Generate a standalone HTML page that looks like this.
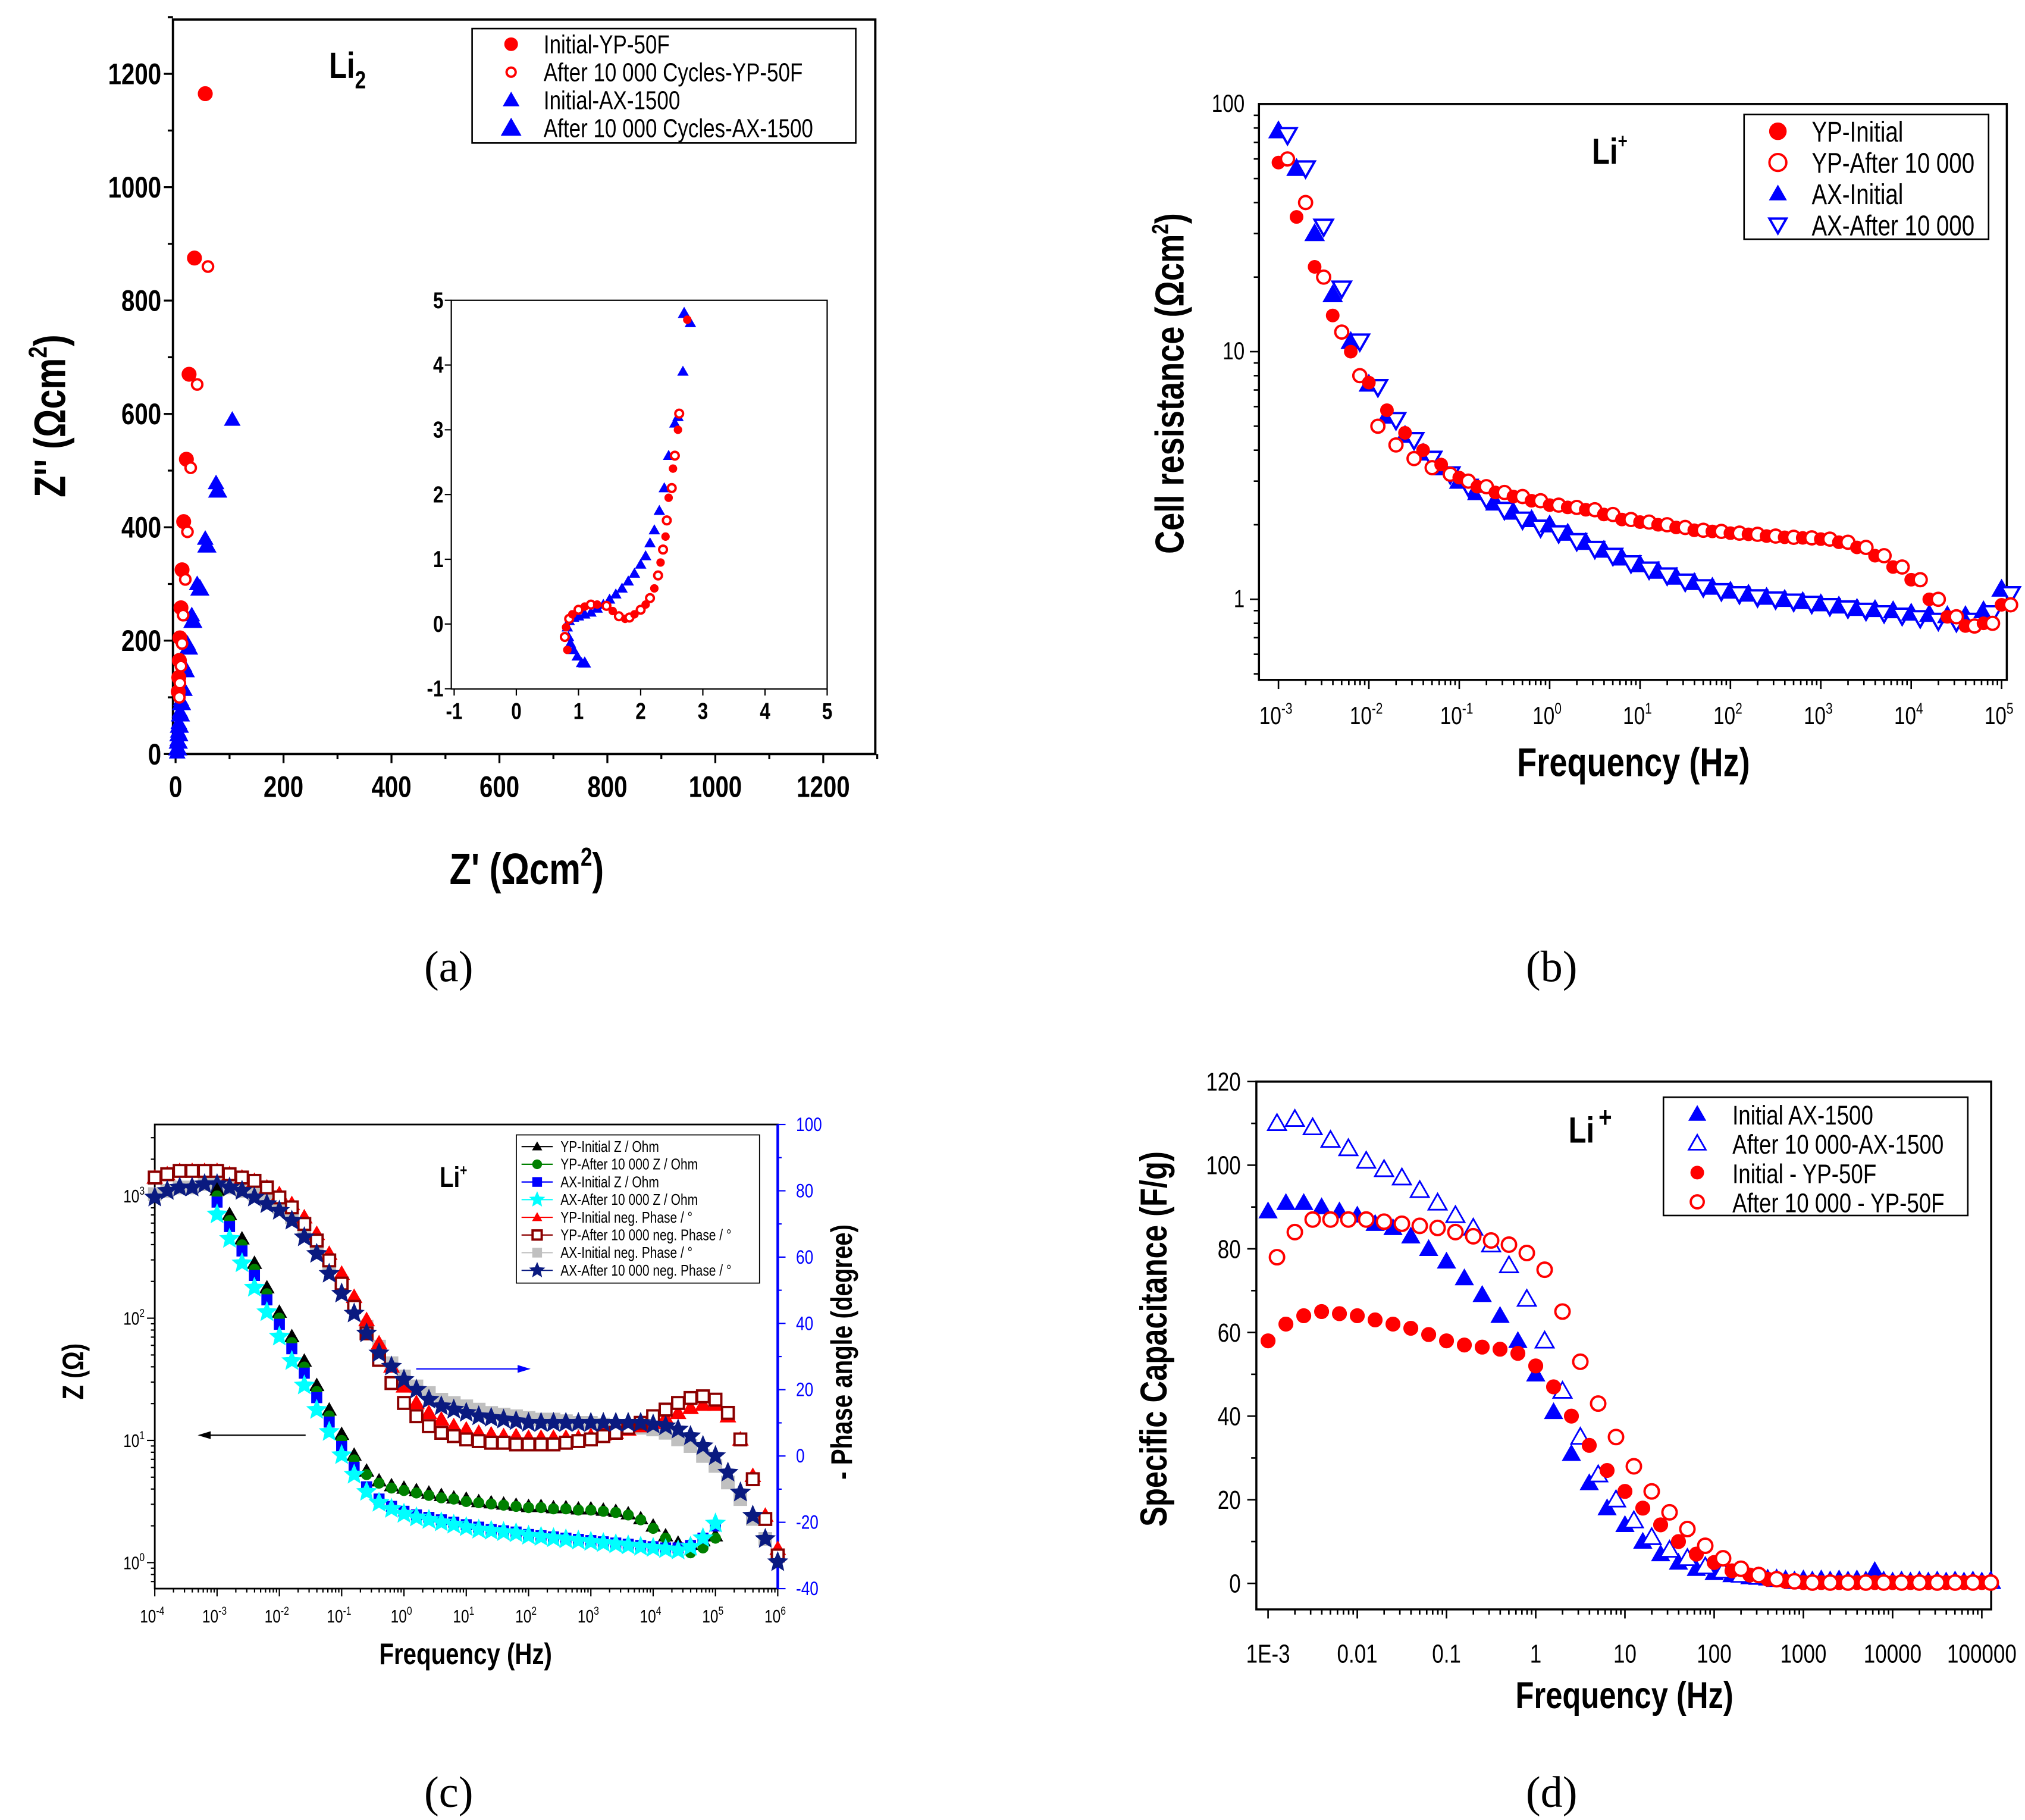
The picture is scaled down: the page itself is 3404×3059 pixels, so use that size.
<!DOCTYPE html>
<html><head><meta charset="utf-8"><style>
html,body{margin:0;padding:0;background:#fff;}
svg{display:block;}
text{font-family:"Liberation Sans",sans-serif;}
.lab{font-family:"Liberation Serif",serif;font-size:34px;}
</style></head><body>
<svg id="fig" xmlns="http://www.w3.org/2000/svg" width="3404" height="3059" viewBox="0 0 1557 1400" preserveAspectRatio="none">
<text class="lab" x="345" y="755" text-anchor="middle">(a)</text>
<text class="lab" x="1193" y="755" text-anchor="middle">(b)</text>
<text class="lab" x="345" y="1390" text-anchor="middle">(c)</text>
<text class="lab" x="1193" y="1390" text-anchor="middle">(d)</text>
</svg>
<script>
// ---------- Panel (a) data ----------
const aYPInitX=[55,35,25,20,15,12,10,8,7,6,5];
const aYPInitY=[1165,875,670,520,410,325,258,205,165,135,110];
const aYPAftX=[60,40,28,22,18,14,12,10,8,7];
const aYPAftY=[860,652,505,392,308,245,195,155,125,100];
const aAXInitX=[105,75,55,40,30,22,16,12,10,8,6,5,4,4,3];
const aAXInitY=[590,478,380,300,245,195,155,120,95,75,55,40,25,12,3];
const aAXAftX=[78,58,45,32,24,18,14,11,9,7,6,5,4];
const aAXAftY=[465,368,292,235,188,148,115,90,70,50,35,22,10];
const aXTicks=[0,200,400,600,800,1000,1200];
const aYTicks=[0,200,400,600,800,1000,1200];
// inset
const inRedX=[0.82,0.78,0.8,0.85,0.9,1.0,1.1,1.2,1.3,1.45,1.55,1.65,1.75,1.82,1.9,2.0,2.08,2.15,2.22,2.28,2.32,2.36,2.4,2.42,2.45,2.5,2.52,2.55,2.6,2.62,2.75];
const inRedY=[-0.4,-0.2,-0.05,0.08,0.15,0.22,0.27,0.3,0.3,0.28,0.2,0.12,0.08,0.1,0.15,0.22,0.3,0.4,0.55,0.75,0.95,1.15,1.35,1.6,1.95,2.1,2.4,2.6,3.0,3.25,4.7];
const inBlueX=[1.05,0.98,0.92,0.87,0.84,0.82,0.85,0.92,1.0,1.1,1.2,1.3,1.4,1.5,1.6,1.7,1.8,1.9,2.0,2.08,2.15,2.22,2.3,2.38,2.45,2.55,2.6,2.68,2.8];
const inBlueY=[-0.6,-0.5,-0.4,-0.3,-0.2,-0.05,0.05,0.1,0.12,0.15,0.18,0.24,0.3,0.38,0.46,0.55,0.66,0.78,0.92,1.05,1.25,1.45,1.75,2.1,2.6,3.1,3.2,3.9,4.65];
const inBlue2X=[1.1,2.7];
const inBlue2Y=[-0.6,4.8];
const inTicks=[-1,0,1,2,3,4,5];
// ---------- Panel (b) data (log10 f step 0.2) ----------
const bF=[-3,-2.8,-2.6,-2.4,-2.2,-2,-1.8,-1.6,-1.4,-1.2,-1,-0.8,-0.6,-0.4,-0.2,0,0.2,0.4,0.6,0.8,1,1.2,1.4,1.6,1.8,2,2.2,2.4,2.6,2.8,3,3.2,3.4,3.6,3.8,4,4.2,4.4,4.6,4.8,5];
const bYPInit=[58,35,22,14,10,7.5,5.8,4.7,4.0,3.5,3.1,2.85,2.7,2.6,2.5,2.4,2.35,2.3,2.2,2.1,2.05,2.0,1.95,1.9,1.88,1.85,1.83,1.8,1.78,1.77,1.75,1.7,1.62,1.5,1.35,1.2,1.0,0.85,0.78,0.8,0.95];
const bYPAft=[60,40,20,12,8,5,4.2,3.7,3.4,3.2,3.0,2.85,2.7,2.6,2.5,2.4,2.35,2.3,2.2,2.1,2.05,2.0,1.95,1.9,1.88,1.85,1.83,1.8,1.78,1.77,1.75,1.7,1.62,1.5,1.35,1.2,1.0,0.85,0.78,0.8,0.95];
const bAXInit=[78,55,30,17,11,7.4,5.5,4.6,3.9,3.4,3.0,2.7,2.45,2.25,2.1,2.0,1.85,1.7,1.58,1.47,1.38,1.3,1.23,1.17,1.12,1.08,1.05,1.02,1.0,0.98,0.96,0.94,0.92,0.91,0.9,0.88,0.87,0.86,0.86,0.9,1.1];
const bAXAft=[75,55,32,18,11,7.2,5.3,4.4,3.7,3.2,2.85,2.55,2.3,2.1,1.95,1.85,1.72,1.6,1.5,1.4,1.32,1.25,1.18,1.12,1.08,1.05,1.02,1.0,0.98,0.96,0.94,0.92,0.9,0.88,0.86,0.84,0.82,0.81,0.82,0.88,1.05];
const bXTickExp=[-3,-2,-1,0,1,2,3,4,5];
const bYTicks=[1,10,100];
// ---------- Panel (c) data ----------
const cFZ=[-3,-2.8,-2.6,-2.4,-2.2,-2,-1.8,-1.6,-1.4,-1.2,-1,-0.8,-0.6,-0.4,-0.2,0,0.2,0.4,0.6,0.8,1,1.2,1.4,1.6,1.8,2,2.2,2.4,2.6,2.8,3,3.2,3.4,3.6,3.8,4,4.2,4.4,4.6,4.8,5];
const cYPInitZ=[3.05,2.85,2.65,2.45,2.25,2.05,1.85,1.65,1.45,1.25,1.05,0.88,0.75,0.67,0.63,0.61,0.59,0.57,0.55,0.53,0.52,0.5,0.49,0.48,0.47,0.46,0.46,0.45,0.45,0.44,0.44,0.43,0.42,0.4,0.36,0.3,0.22,0.16,0.15,0.18,0.22];
const cYPAftZ=[3.0,2.8,2.6,2.4,2.2,2.0,1.8,1.6,1.4,1.2,1.0,0.84,0.72,0.65,0.61,0.59,0.57,0.55,0.53,0.52,0.5,0.49,0.48,0.47,0.46,0.45,0.45,0.44,0.44,0.43,0.43,0.42,0.41,0.39,0.35,0.28,0.2,0.12,0.08,0.12,0.2];
const cAXInitZ=[2.95,2.75,2.55,2.35,2.15,1.95,1.75,1.55,1.35,1.15,0.95,0.78,0.62,0.52,0.46,0.42,0.39,0.37,0.35,0.33,0.31,0.29,0.27,0.26,0.25,0.23,0.22,0.21,0.2,0.19,0.18,0.17,0.16,0.15,0.14,0.13,0.12,0.12,0.14,0.2,0.3];
const cAXAftZ=[2.85,2.65,2.45,2.25,2.05,1.85,1.65,1.45,1.25,1.07,0.88,0.72,0.58,0.49,0.44,0.4,0.37,0.35,0.33,0.31,0.29,0.27,0.26,0.25,0.24,0.22,0.21,0.2,0.19,0.18,0.17,0.16,0.15,0.14,0.13,0.12,0.11,0.1,0.13,0.2,0.32];
const cFP=[-4,-3.8,-3.6,-3.4,-3.2,-3,-2.8,-2.6,-2.4,-2.2,-2,-1.8,-1.6,-1.4,-1.2,-1,-0.8,-0.6,-0.4,-0.2,0,0.2,0.4,0.6,0.8,1,1.2,1.4,1.6,1.8,2,2.2,2.4,2.6,2.8,3,3.2,3.4,3.6,3.8,4,4.2,4.4,4.6,4.8,5,5.2,5.4,5.6,5.8,6];
const cYPInitP=[84,85,86,86,86,86,85,84,83,81,79,76,72,67,61,55,48,41,34,27,21,16,13,11,9,8,7,6.5,6,6,5.5,5.5,5.5,5.5,5.5,6,6.5,7,8,9,10,11.5,13,14.5,15.5,15.5,12,5,-6,-18,-28];
const cYPAftP=[84,85,86,86,86,86,85,84,83,81,78,75,70,65,59,52,45,37,29,22,16,12,9,7,6,5,4.5,4,4,3.5,3.5,3.5,3.5,4,4.5,5,6,7,8.5,10,12,14,16,17.5,18,17,13,5,-7,-19,-30];
const cAXInitP=[79,80,81,81,82,82,81,80,79,77,75,72,68,63,57,51,45,39,33,28,24,21,19,17,16,15,14,13,12.5,12,11.5,11,11,10.5,10,10,9.5,9,9,8.5,8,7,5,3,0,-3,-8,-13,-19,-25,-30];
const cAXAftP=[78,80,81,81,82,82,81,80,78,76,74,71,66,61,55,49,43,37,31,27,23,20,17,15,14,13,12,11.5,11,10.5,10,10,10,10,10,10,10,10,10,10,9.5,9,8,6,3,0,-5,-11,-18,-25,-32];
const cXTickExp=[-4,-3,-2,-1,0,1,2,3,4,5,6];
const cYTickExp=[0,1,2,3];
const cPTicks=[-40,-20,0,20,40,60,80,100];
// ---------- Panel (d) data (log10 f step 0.2) ----------
const dF=[-3,-2.8,-2.6,-2.4,-2.2,-2,-1.8,-1.6,-1.4,-1.2,-1,-0.8,-0.6,-0.4,-0.2,0,0.2,0.4,0.6,0.8,1,1.2,1.4,1.6,1.8,2,2.2,2.4,2.6,2.8,3,3.2,3.4,3.6,3.8,4,4.2,4.4,4.6,4.8,5];
const dAXInit=[89,91,91,90,89,88,86,85,83,80,77,73,69,64,58,50,41,31,24,18,14,10,7,5,3.5,2.5,2,1.5,1.2,1,1,1,1,1,3,0.5,0.5,0.5,0.5,0.5,0.5];
const dAXAft=[110,111,109,106,104,101,99,97,94,91,88,85,81,76,68,58,46,35,26,20,15,11,8,6,4,3,2,1.5,1,0.5,0.5,0.5,0.5,0.5,0.5,0.5,0.5,0.5,0.5,0.5,0.5];
const dYPInit=[58,62,64,65,64.5,64,63,62,61,59.5,58,57,56.5,56,55,52,47,40,33,27,22,18,14,10,7,5,3,2,1,0.5,0.2,0.2,0.2,0.2,0.2,0.2,0.2,0.2,0.2,0.2,0.2];
const dYPAft=[78,84,87,87,87,87,86.5,86,85.5,85,84,83,82,81,79,75,65,53,43,35,28,22,17,13,9,6,3.5,2,1,0.5,0.2,0.2,0.2,0.2,0.2,0.2,0.2,0.2,0.2,0.2,0.2];
const dXTickExp=[-3,-2,-1,0,1,2,3,4,5];
const dXTickLab=["1E-3","0.01","0.1","1","10","100","1000","10000","100000"];
const dYTicks=[0,20,40,60,80,100,120];

const NS="http://www.w3.org/2000/svg";
const svg=document.getElementById('fig');
const SX=0.8;
function mk(tag,attrs,parent){const e=document.createElementNS(NS,tag);for(const k in attrs)e.setAttribute(k,attrs[k]);(parent||svg).appendChild(e);return e;}
// narrow text: translate + horizontal squeeze
function txt(x,y,s,size,anchor,extra,rot){const a=Object.assign({x:0,y:0,'font-size':size,'text-anchor':anchor||'middle',transform:`translate(${x},${y})${rot?' rotate(-90)':''} scale(${SX},1)`},extra||{});const e=mk('text',a);e.textContent=s;return e;}
function marker(shape,x,y,sz,col,fill){
  let e;
  if(shape==='circle'){e=mk('circle',{cx:x,cy:y,r:sz,fill:fill?col:'#fff',stroke:col,'stroke-width':fill?0.5:1.8});}
  else if(shape==='tri'){e=mk('polygon',{points:`${x},${y-sz} ${x-sz},${y+sz*0.75} ${x+sz},${y+sz*0.75}`,fill:fill?col:'#fff',stroke:col,'stroke-width':fill?0.5:1.3});}
  else if(shape==='dtri'){e=mk('polygon',{points:`${x},${y+sz} ${x-sz},${y-sz*0.75} ${x+sz},${y-sz*0.75}`,fill:'#fff',stroke:col,'stroke-width':1.8});}
  else if(shape==='sq'){e=mk('rect',{x:x-sz,y:y-sz,width:2*sz,height:2*sz,fill:fill?col:'#fff',stroke:col,'stroke-width':fill?0.5:1.8});}
  else if(shape==='star'){let p=[];for(let i=0;i<10;i++){const r=i%2?sz*0.45:sz;const a=-Math.PI/2+i*Math.PI/5;p.push((x+r*Math.cos(a)).toFixed(1)+','+(y+r*Math.sin(a)).toFixed(1));}e=mk('polygon',{points:p.join(' '),fill:col,stroke:col,'stroke-width':0.4});}
  return e;
}
function box(x0,y0,x1,y1,name,w){const r=mk('rect',{x:x0,y:y0,width:x1-x0,height:y1-y0,fill:'none',stroke:'#000','stroke-width':w||1.6});


return r;}

// ===== Panel (a) =====
const aX=v=>135+v*83/200, aY=v=>580-v*87.2/200;
box(133,15,673,580,'plot-frame-a',1.8);
for(let v=0;v<=1300;v+=100){const big=v%200===0;mk('line',{x1:aX(v),y1:580,x2:aX(v),y2:580+(big?7:4),stroke:'#000','stroke-width':1.5});mk('line',{x1:133,y1:aY(v),x2:133-(big?7:4),y2:aY(v),stroke:'#000','stroke-width':1.5});}
aXTicks.forEach(v=>{const t=txt(aX(v),613,String(v),23,'middle',{'font-weight':'bold'});

});
aYTicks.forEach(v=>{const t=txt(124,aY(v)+8,String(v),23,'end',{'font-weight':'bold'});

});
{const t=txt(405,680,"Z' (Ωcm",34,'middle',{'font-weight':'bold'});const s=mk('tspan',{dy:-14,'font-size':20},t);s.textContent='2';const s2=mk('tspan',{dy:14},t);s2.textContent=')';

}
{const t=txt(50,320,"Z'' (Ωcm",34,'middle',{'font-weight':'bold'},true);const s=mk('tspan',{dy:-14,'font-size':20},t);s.textContent='2';const s2=mk('tspan',{dy:14},t);s2.textContent=')';

}
{const t=txt(253,60,'Li',28,'start',{'font-weight':'bold'});const s=mk('tspan',{dy:8,'font-size':19},t);s.textContent='2';

}
aAXAftX.forEach((v,i)=>{const m=marker('tri',aX(v),aY(aAXAftY[i]),7,'#0000ff',true);

});
aAXInitX.forEach((v,i)=>{const m=marker('tri',aX(v),aY(aAXInitY[i]),6,'#0000ff',true);

});
aYPInitX.forEach((v,i)=>{const m=marker('circle',aX(v),aY(aYPInitY[i]),5.5,'#ff0000',true);

});
aYPAftX.forEach((v,i)=>{const m=marker('circle',aX(v),aY(aYPAftY[i]),4,'#ff0000',false);

});
{const g=mk('g',{});


mk('rect',{x:363,y:22,width:295,height:88,fill:'#fff',stroke:'#000','stroke-width':1.2},g);
const items=[['Initial-YP-50F','circle',true,'#ff0000',5],['After 10 000 Cycles-YP-50F','circle',false,'#ff0000',3.5],['Initial-AX-1500','tri',true,'#0000ff',6],['After 10 000 Cycles-AX-1500','tri',true,'#0000ff',7.5]];
items.forEach((it,i)=>{const y=34+i*21.5;const m=marker(it[1],393,y,it[4],it[3],it[2]);


const t=txt(418,y+7,it[0],20,'start');

});}
// inset
const iX=v=>397+v*47.8;
const iY2=v=>231+(5-v)*49.8;
box(347,231,636,530,'inset-frame',1);
inTicks.forEach(v=>{mk('line',{x1:iX(v),y1:530,x2:iX(v),y2:535,stroke:'#000'});mk('line',{x1:347,y1:iY2(v),x2:342,y2:iY2(v),stroke:'#000'});
const t=txt(iX(v),553,String(v),18,'middle',{'font-weight':'bold'});


const t2=txt(341,iY2(v)+6,String(v),18,'end',{'font-weight':'bold'});

});
inBlueX.forEach((v,i)=>{const m=marker('tri',iX(v),iY2(inBlueY[i]),4,'#0000ff',true);

});
inBlue2X.forEach((v,i)=>{const m=marker('tri',iX(v),iY2(inBlue2Y[i]),4.5,'#0000ff',true);

});
inRedX.forEach((v,i)=>{const m=marker('circle',iX(v),iY2(inRedY[i]),3,'#ff0000',i%2===0);

});

// ===== Panel (b) =====
const bX=e=>983+(e+3)*69.5, bY=v=>461-Math.log10(v)*190.5;
box(968,80,1543,523,'plot-frame-b',1.6);
for(let d=-3;d<5;d++){for(let k=1;k<10;k++){const x=bX(d+Math.log10(k));mk('line',{x1:x,y1:523,x2:x,y2:523+(k===1?7:4),stroke:'#000','stroke-width':1.2});}}
mk('line',{x1:bX(5),y1:523,x2:bX(5),y2:530,stroke:'#000','stroke-width':1.2});
for(let d=-1;d<2;d++){for(let k=1;k<10;k++){const v=k*Math.pow(10,d);if(v<0.47||v>100)continue;mk('line',{x1:968,y1:bY(v),x2:968-(k===1?7:4),y2:bY(v),stroke:'#000','stroke-width':1.2});}}
bXTickExp.forEach(e=>{const t=txt(bX(e)-2,557,'10',19,'middle');const s=mk('tspan',{dy:-8,'font-size':12},t);s.textContent=String(e);

});
bYTicks.forEach(v=>{const t=txt(957,bY(v)+6,String(v),19,'end');

});
{const t=txt(1256,597,'Frequency (Hz)',31,'middle',{'font-weight':'bold'});

}
{const t=txt(910,295,'Cell resistance (Ωcm',31,'middle',{'font-weight':'bold'},true);const s=mk('tspan',{dy:-12,'font-size':18},t);s.textContent='2';const s2=mk('tspan',{dy:12},t);s2.textContent=')';

}
{const t=txt(1224,126,'Li',28,'start',{'font-weight':'bold'});const s=mk('tspan',{dy:-12,'font-size':16},t);s.textContent='+';

}
bF.forEach((f,i)=>{let m=marker('tri',bX(f),bY(bAXInit[i]),7.5,'#0000ff',true);


m=marker('dtri',bX(f+0.1),bY(bAXAft[i]),7,'#0000ff',false);

});
bF.forEach((f,i)=>{let m=marker('circle',bX(f),bY(bYPInit[i]),5,'#ff0000',true);


m=marker('circle',bX(f+0.1),bY(bYPAft[i]),5,'#ff0000',false);

});
{const g=mk('g',{});


mk('rect',{x:1341,y:88,width:188,height:96,fill:'#fff',stroke:'#000','stroke-width':1.2},g);
const items=[['YP-Initial','circle',true,'#ff0000'],['YP-After 10 000','circle',false,'#ff0000'],['AX-Initial','tri',true,'#0000ff'],['AX-After 10 000','dtri',false,'#0000ff']];
items.forEach((it,i)=>{const y=101+i*24;const m=marker(it[1],1367,y,6.5,it[3],it[2]);


const t=txt(1393,y+8,it[0],22,'start');

});}

// ===== Panel (c) =====
const cX=e=>119+(e+4)*47.9, cY=v=>1202-v*94, cP=v=>1120-v*2.55;
box(119,865,598,1222,'plot-frame-c',1.3);
mk('line',{x1:598,y1:865,x2:598,y2:1222,stroke:'#0000ff','stroke-width':2});
for(let d=-4;d<6;d++){for(let k=1;k<10;k++){const x=cX(d+Math.log10(k));mk('line',{x1:x,y1:1222,x2:x,y2:1222+(k===1?6:3),stroke:'#000'});}}
mk('line',{x1:cX(6),y1:1222,x2:cX(6),y2:1228,stroke:'#000'});
for(let d=-1;d<4;d++){for(let k=1;k<10;k++){const v=d+Math.log10(k);const y=cY(v);if(y<865||y>1222)continue;mk('line',{x1:119,y1:y,x2:119-(k===1?6:3),y2:y,stroke:'#000'});}}
for(let v=-40;v<=100;v+=10){mk('line',{x1:598,y1:cP(v),x2:598+(v%20===0?6:3),y2:cP(v),stroke:'#0000ff'});}
cXTickExp.forEach(e=>{const t=txt(cX(e)-2,1248,'10',14,'middle');const s=mk('tspan',{dy:-6,'font-size':9},t);s.textContent=String(e);

});
cYTickExp.forEach(e=>{const t=txt(103,cY(e)+5,'10',14,'middle');const s=mk('tspan',{dy:-6,'font-size':9},t);s.textContent=String(e);

});
cPTicks.forEach(v=>{const t=txt(612,cP(v)+5,String(v),15,'start',{fill:'#0000ff'});

});
{const t=txt(358,1280,'Frequency (Hz)',23,'middle',{'font-weight':'bold'});

}
{const t=txt(64,1055,'Z (Ω)',23,'middle',{'font-weight':'bold'},true);

}
{const t=txt(655,1040,'- Phase angle (degree)',23,'middle',{'font-weight':'bold'},true);

}
{const t=txt(338,913,'Li',22,'start',{'font-weight':'bold'});const s=mk('tspan',{dy:-9,'font-size':12},t);s.textContent='+';

}
mk('line',{x1:235,y1:1104,x2:155,y2:1104,stroke:'#000'});mk('polygon',{points:'152,1104 162,1101 162,1107',fill:'#000'});
mk('line',{x1:320,y1:1053,x2:405,y2:1053,stroke:'#0000ff'});mk('polygon',{points:'408,1053 398,1050 398,1056',fill:'#0000ff'});
function seriesC(fs,vals,yf,shape,col,fill,sz,name){fs.forEach((f,i)=>{const m=marker(shape,cX(f),yf(vals[i]),sz,col,fill);

});}
seriesC(cFP,cAXInitP,cP,'sq','#c0c0c0',true,5,'point-ax-initial-phase');
seriesC(cFP,cYPInitP,cP,'tri','#ff0000',true,6,'point-yp-initial-phase');
seriesC(cFP,cYPAftP,cP,'sq','#8b0000',false,4.5,'point-yp-after-phase');
seriesC(cFP,cAXAftP,cP,'star','#0a1a80',true,8,'point-ax-after-phase');
seriesC(cFZ,cYPInitZ,cY,'tri','#000',true,5.5,'point-yp-initial-z');
seriesC(cFZ,cYPAftZ,cY,'circle','#008000',true,4,'point-yp-after-z');
seriesC(cFZ,cAXInitZ,cY,'sq','#0000ff',true,4,'point-ax-initial-z');
seriesC(cFZ,cAXAftZ,cY,'star','#00ffff',true,8,'point-ax-after-z');
{const g=mk('g',{});


mk('rect',{x:397,y:873,width:187,height:114,fill:'#fff',stroke:'#000','stroke-width':0.8},g);
const items=[['YP-Initial Z / Ohm','tri','#000',true],['YP-After 10 000 Z / Ohm','circle','#008000',true],['AX-Initial Z / Ohm','sq','#0000ff',true],['AX-After 10 000 Z / Ohm','star','#00ffff',true],['YP-Initial neg. Phase / °','tri','#ff0000',true],['YP-After 10 000 neg. Phase / °','sq','#8b0000',false],['AX-Initial neg. Phase / °','sq','#c0c0c0',true],['AX-After 10 000 neg. Phase / °','star','#0a1a80',true]];
items.forEach((it,i)=>{const y=882+i*13.6;mk('line',{x1:401,y1:y,x2:425,y2:y,stroke:it[2],'stroke-width':1});const m=marker(it[1],413,y,it[1]==='star'?6:3.5,it[2],it[3]);


const t=txt(431,y+4,it[0],12,'start');

});}

// ===== Panel (d) =====
const dX=e=>975+(e+3)*68.6, dY=v=>1218-v*3.217;
box(966,832,1531,1238,'plot-frame-d',1.6);
for(let d=-3;d<5;d++){for(let k=1;k<10;k++){const x=dX(d+Math.log10(k));mk('line',{x1:x,y1:1238,x2:x,y2:1238+(k===1?7:4),stroke:'#000','stroke-width':1.2});}}
mk('line',{x1:dX(5),y1:1238,x2:dX(5),y2:1245,stroke:'#000','stroke-width':1.2});
for(let v=0;v<=120;v+=10){mk('line',{x1:966,y1:dY(v),x2:966-(v%20===0?7:4),y2:dY(v),stroke:'#000','stroke-width':1.2});}
dXTickExp.forEach((e,i)=>{const t=txt(dX(e),1279,dXTickLab[i],20,'middle');

});
dYTicks.forEach(v=>{const t=txt(954,dY(v)+7,String(v),20,'end');

});
{const t=txt(1249,1314,'Frequency (Hz)',29,'middle',{'font-weight':'bold'});

}
{const t=txt(897,1030,'Specific Capacitance (F/g)',29,'middle',{'font-weight':'bold'},true);

}
{const t=txt(1206,879,'Li',28,'start',{'font-weight':'bold'});const s=mk('tspan',{dx:4,dy:-12,'font-size':22},t);s.textContent='+';

}
dF.forEach((f,i)=>{let m=marker('tri',dX(f),dY(dAXInit[i]),7,'#0000ff',true);

});
dF.forEach((f,i)=>{let m=marker('tri',dX(f+0.1),dY(dAXAft[i]),7,'#0000ff',false);

});
dF.forEach((f,i)=>{let m=marker('circle',dX(f),dY(dYPInit[i]),5.5,'#ff0000',true);

});
dF.forEach((f,i)=>{let m=marker('circle',dX(f+0.1),dY(dYPAft[i]),5.5,'#ff0000',false);

});
{const g=mk('g',{});


mk('rect',{x:1279,y:844,width:234,height:91,fill:'#fff',stroke:'#000','stroke-width':1.2},g);
const items=[['Initial AX-1500','tri',true,'#0000ff'],['After 10 000-AX-1500','tri',false,'#0000ff'],['Initial - YP-50F','circle',true,'#ff0000'],['After 10 000 - YP-50F','circle',false,'#ff0000']];
items.forEach((it,i)=>{const y=857+i*22.5;const m=marker(it[1],1305,y,it[1]==='tri'?6.5:5,it[3],it[2]);


const t=txt(1332,y+8,it[0],21,'start');

});}
</script>
</body></html>
